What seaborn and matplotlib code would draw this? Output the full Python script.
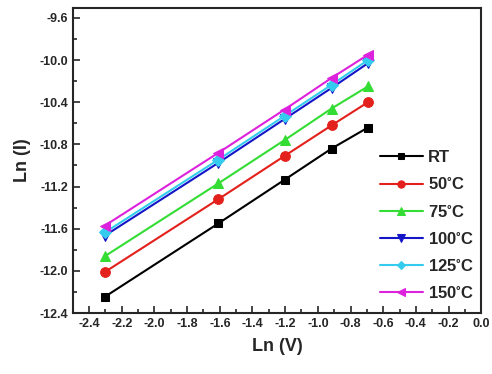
import matplotlib
matplotlib.use("Agg")
import matplotlib.pyplot as plt
import seaborn as sns
import pandas as pd
import numpy as np

ln_v = [-2.303, -1.609, -1.204, -0.916, -0.693]
labels = ["RT", "50$^{\\circ}$C", "75$^{\\circ}$C", "100$^{\\circ}$C",
          "125$^{\\circ}$C", "150$^{\\circ}$C"]
rt = [-12.245, -11.55, -11.136, -10.84, -10.64]
c50 = [-12.01, -11.32, -10.91, -10.62, -10.40]
c75 = [-11.86, -11.17, -10.76, -10.46, -10.25]
c100 = [-11.665, -10.975, -10.56, -10.265, -10.03]
c125 = [-11.635, -10.945, -10.53, -10.235, -10.00]
c150 = [-11.57, -10.88, -10.47, -10.17, -9.95]
colors = ["#000000", "#e3201b", "#33dd33", "#1515c8", "#33ccee", "#dd22dd"]
markers = ["s", "o", "^", "v", "D", "<"]
sizes = [6, 7, 7, 7, 6, 7]

sns.set_style("ticks")
plt.rcParams['font.family'] = ['Liberation Sans', 'DejaVu Sans']
plt.rcParams['font.weight'] = 'bold'
plt.rcParams['mathtext.default'] = 'regular'

fig = plt.figure(figsize=(4.92, 3.74), dpi=100)
ax = fig.add_axes([0.148, 0.163, 0.830, 0.816])

series = [rt, c50, c75, c100, c125, c150]
for lab, ys, col, mk, ms in zip(labels, series, colors, markers, sizes):
    df = pd.DataFrame({"x": ln_v, "y": ys})
    sns.lineplot(data=df, x="x", y="y", ax=ax, color=col, marker=mk, markersize=ms,
                 markeredgecolor=col, linewidth=1.5, label=lab)

ax.set_xlim(-2.49, 0.0)
ax.set_ylim(-12.4, -9.505)
ax.set_xticks(np.arange(-2.4, 0.01, 0.2))
ax.set_xticklabels([f"{v:.1f}" if abs(v) > 1e-9 else "0.0" for v in np.arange(-2.4, 0.01, 0.2)])
ax.set_yticks(np.arange(-12.4, -9.55, 0.4))
ax.set_yticklabels([f"{v:.1f}" for v in np.arange(-12.4, -9.55, 0.4)])
ax.set_xticks(np.arange(-2.5, 0.01, 0.1), minor=True)
ax.set_yticks(np.arange(-12.4, -9.5, 0.2), minor=True)
ax.tick_params(which="both", direction="in", top=False, right=False, width=1.2)
ax.tick_params(which="major", length=5, labelsize=9)
ax.tick_params(which="minor", length=3)
for lbl in ax.get_xticklabels() + ax.get_yticklabels():
    lbl.set_fontweight("bold")
for s in ax.spines.values():
    s.set_linewidth(1.5)
    s.set_visible(True)

ax.set_xlabel("Ln (V)", fontsize=13, fontweight="bold", labelpad=6)
ax.set_ylabel("Ln (I)", fontsize=13, fontweight="bold", labelpad=6)

leg = ax.legend(loc="lower right", bbox_to_anchor=(1.02, -0.01), frameon=False,
                handlelength=2.6, labelspacing=0.67, handletextpad=0.3, markerscale=0.75,
                prop={"weight": "bold", "size": 12})

fig.savefig("out.png", dpi=100)
